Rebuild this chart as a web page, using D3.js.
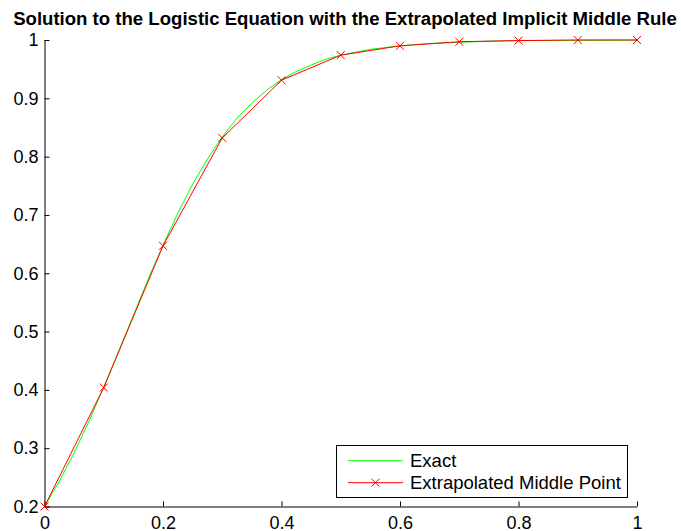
<!DOCTYPE html>
<html>
<head>
<meta charset="utf-8">
<script src="https://cdn.jsdelivr.net/npm/d3@7"></script>
<style>
  body { margin: 0; background: #fff; }
  text { font-family: "Liberation Sans", Arial, Helvetica, sans-serif; }
</style>
</head>
<body>
<script>
var width = 681, height = 531;
var margin = {left: 44.5, right: 44.5, top: 40, bottom: 24.5};

// exact solution
var exactT = [0, 0.025, 0.05, 0.075, 0.1, 0.125, 0.15, 0.175, 0.2, 0.225, 0.25, 0.275, 0.3, 0.325, 0.35, 0.375, 0.4, 0.425, 0.45, 0.475, 0.5, 0.55, 0.6, 0.65, 0.7, 0.75, 0.8, 0.9, 1.0];
var exactY = [0.2, 0.243, 0.292, 0.346, 0.405, 0.466, 0.528, 0.59, 0.648, 0.703, 0.753, 0.796, 0.834, 0.866, 0.892, 0.914, 0.932, 0.946, 0.957, 0.967, 0.974, 0.984, 0.99, 0.994, 0.996, 0.998, 0.999, 0.9995, 0.9998];

// extrapolated middle point rule, red markers
var emT = [0, 0.1, 0.2, 0.3, 0.4, 0.5, 0.6, 0.7, 0.8, 0.9, 1.0];
var emY = [0.2, 0.404, 0.647, 0.832, 0.931, 0.974, 0.99, 0.997, 0.999, 1.0, 1.0];

var xTicks = [0, 0.2, 0.4, 0.6, 0.8, 1];
var yTicks = [0.2, 0.3, 0.4, 0.5, 0.6, 0.7, 0.8, 0.9, 1];
var legendLabels = ["Exact", "Extrapolated Middle Point"];

var x = d3.scaleLinear().domain([0, 1]).range([margin.left, width - margin.right + 0.5]);
var y = d3.scaleLinear().domain([0.2, 1]).range([height - margin.bottom, margin.top]);

var svg = d3.select("body").append("svg")
    .attr("width", width)
    .attr("height", height);

// axes (left and bottom only, ticks inside)
var xAxis = d3.axisBottom(x).tickValues(xTicks).tickSize(-5)
    .tickFormat(function(d) { return d === 0 || d === 1 ? d3.format("d")(d) : d3.format(".1f")(d); });
var yAxis = d3.axisLeft(y).tickValues(yTicks).tickSize(-5).tickPadding(6)
    .tickFormat(function(d) { return d === 1 ? "1" : d3.format(".1f")(d); });

var gx = svg.append("g")
    .attr("transform", "translate(0," + y(0.2) + ")")
    .call(xAxis);
var gy = svg.append("g")
    .attr("transform", "translate(" + x(0) + ",0)")
    .call(yAxis);

[gx, gy].forEach(function(g) {
    g.select(".domain").attr("stroke", "#000").attr("stroke-width", 1);
    g.selectAll(".tick line").attr("stroke", "#000");
    g.selectAll(".tick text")
        .style("font-family", '"Liberation Sans", Arial, sans-serif')
        .style("font-size", "18px")
        .attr("fill", "#000");
});
// baseline just above the bottom edge
gx.selectAll(".tick text").attr("dy", null).attr("y", 22);
// domain path without outer ticks
gx.select(".domain").attr("d", "M" + x(0) + ",0.5H" + x(1));
gy.select(".domain").attr("d", "M0.5," + y(0.2) + "V" + y(1));

// exact curve
var lineExact = d3.line()
    .x(function(d, i) { return x(exactT[i]); })
    .y(function(d) { return y(d); });
svg.append("path")
    .attr("d", lineExact(exactY))
    .attr("fill", "none")
    .attr("stroke", "#00ff00")
    .attr("stroke-width", 1);

// extrapolated middle point
var lineEm = d3.line()
    .x(function(d, i) { return x(emT[i]); })
    .y(function(d) { return y(d); });
svg.append("path")
    .attr("d", lineEm(emY))
    .attr("fill", "none")
    .attr("stroke", "#ff0000")
    .attr("stroke-width", 1);

var m = 4;
function cross(g, cx, cy) {
    g.append("path")
        .attr("d", "M" + (cx - m) + "," + (cy - m) + "L" + (cx + m) + "," + (cy + m) +
                   "M" + (cx - m) + "," + (cy + m) + "L" + (cx + m) + "," + (cy - m))
        .attr("stroke", "#ff0000")
        .attr("stroke-width", 1)
        .attr("fill", "none");
}
var markers = svg.append("g");
emY.forEach(function(v, i) { cross(markers, x(emT[i]), y(v)); });

// title
var title = svg.append("text")
    .attr("x", 345)
    .attr("y", 25)
    .attr("text-anchor", "middle")
    .style("font-weight", "bold")
    .style("font-size", "16px")
    .attr("fill", "#000")
    .text("Solution to the Logistic Equation with the Extrapolated Implicit Middle Rule");
var tw = title.node().getComputedTextLength();
title.style("font-size", (16 * 664 / tw) + "px");

// legend
var lg = svg.append("g");
lg.append("rect")
    .attr("x", 336.5).attr("y", 445.5)
    .attr("width", 291).attr("height", 52)
    .attr("fill", "#fff").attr("stroke", "#000").attr("stroke-width", 1);
var rows = [460.7, 482.7];
var colors = ["#00ff00", "#ff0000"];
legendLabels.forEach(function(lab, i) {
    lg.append("line")
        .attr("x1", 348).attr("x2", 403)
        .attr("y1", rows[i]).attr("y2", rows[i])
        .attr("stroke", colors[i]).attr("stroke-width", 1);
    if (i === 1) cross(lg, 375.5, rows[i]);
    lg.append("text")
        .attr("x", 410).attr("y", rows[i])
        .attr("dy", "0.35em")
        .style("font-size", "18.5px")
        .attr("fill", "#000")
        .text(lab);
});
</script>
</body>
</html>
